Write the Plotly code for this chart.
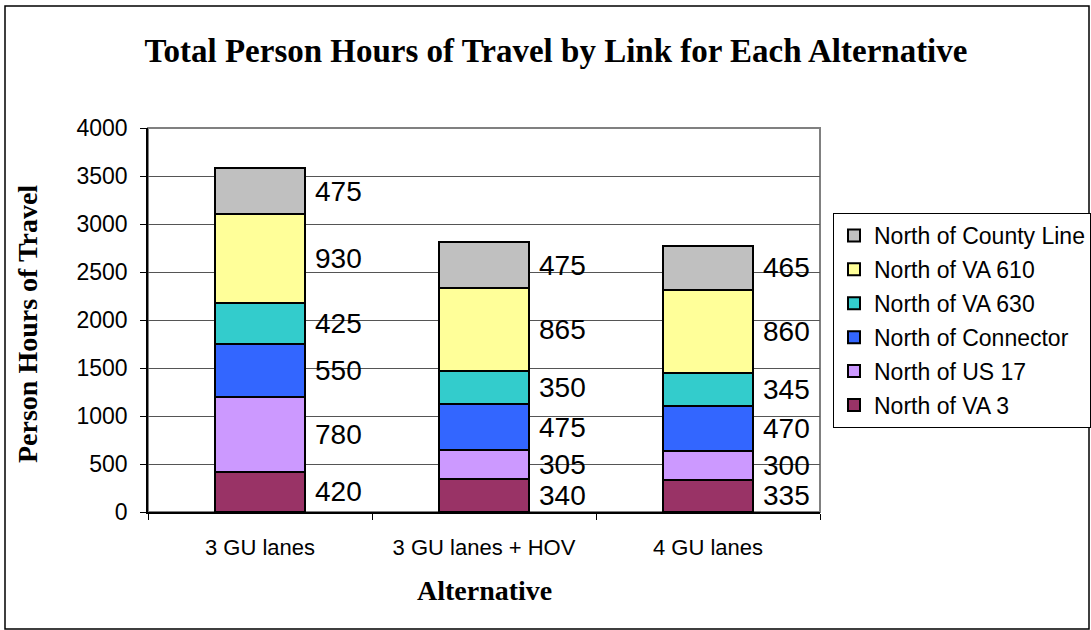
import plotly.graph_objects as go

categories = ["3 GU lanes", "3 GU lanes + HOV", "4 GU lanes"]
series_names = ["North of VA 3", "North of US 17", "North of Connector",
                "North of VA 630", "North of VA 610", "North of County Line"]
north_va3 = [420, 340, 335]
north_us17 = [780, 305, 300]
north_connector = [550, 475, 470]
north_va630 = [425, 350, 345]
north_va610 = [930, 865, 860]
north_county_line = [475, 475, 465]
colors = ["#993366", "#CC99FF", "#3366FF", "#33CCCC", "#FFFF99", "#C0C0C0"]
y_ticks = [0, 500, 1000, 1500, 2000, 2500, 3000, 3500, 4000]

series = [north_va3, north_us17, north_connector, north_va630, north_va610, north_county_line]

W, H = 1091, 630
L, T, B = 148, 128, 118
PW = W - L           # paper width (r margin = 0)
PLOT_R = 820         # right edge of plot area in px
PH = H - T - B
dom_r = (PLOT_R - L) / PW

def px_x(p):
    return (p - L) / PW

def px_y(p):
    return (H - B - p) / PH

fig = go.Figure()
n = len(series_names)
for i, (name, vals, col) in enumerate(zip(series_names, series, colors)):
    fig.add_trace(go.Bar(
        x=categories, y=vals, name=name, width=0.4, legendgroup=name,
        legendrank=1000 + (n - i),
        marker=dict(color=col, line=dict(color="black", width=2)),
    ))

annotations = []
for ci in range(len(categories)):
    base = 0
    for vals in series:
        v = vals[ci]
        annotations.append(dict(
            x=ci + 0.35, y=base + v / 2, xref="x", yref="y", text=str(v),
            showarrow=False, xanchor="center", yanchor="middle",
            font=dict(family="Liberation Sans, Arial", size=28, color="black"),
        ))
        base += v

annotations.append(dict(
    x=px_x(27), y=px_y(324), xref="paper", yref="paper", text="<b>Person Hours of Travel</b>",
    textangle=-90, showarrow=False, xanchor="center", yanchor="middle",
    font=dict(family="Liberation Serif, Times New Roman", size=28, color="black"),
))
annotations.append(dict(
    x=px_x(484), y=px_y(590), xref="paper", yref="paper", text="<b>Alternative</b>",
    showarrow=False, xanchor="center", yanchor="middle",
    font=dict(family="Liberation Serif, Times New Roman", size=28, color="black"),
))

fig.update_layout(
    width=W, height=H,
    barmode="stack",
    paper_bgcolor="white", plot_bgcolor="white",
    margin=dict(l=L, r=0, t=T, b=B),
    title=dict(text="<b>Total Person Hours of Travel by Link for Each Alternative</b>",
               x=556 / W, xanchor="center", y=1 - 50 / H, yanchor="middle",
               xref="container", yref="container",
               font=dict(family="Liberation Serif, Times New Roman", size=33, color="black")),
    font=dict(family="Liberation Sans, Arial", size=22, color="black"),
    legend=dict(
        x=1.0, y=px_y(213), xanchor="right", yanchor="top",
        traceorder="grouped",
        bordercolor="black", borderwidth=1, bgcolor="white",
        font=dict(family="Liberation Sans, Arial", size=23, color="black"),
        tracegroupgap=1, itemwidth=30,
    ),
    annotations=annotations,
    shapes=[
        dict(type="rect", xref="paper", yref="paper", x0=0, x1=dom_r, y0=0, y1=1,
             line=dict(color="#808080", width=2), layer="below"),
        dict(type="rect", xref="paper", yref="paper",
             x0=px_x(5), x1=px_x(1089), y0=px_y(629), y1=px_y(6),
             line=dict(color="black", width=1.5), layer="below"),
    ],
)

fig.update_xaxes(
    domain=[0, dom_r],
    type="category", tickson="boundaries", ticks="outside", ticklen=6,
    tickcolor="black", showline=True, linecolor="black", linewidth=1.5,
    showgrid=False, ticklabelstandoff=15,
    tickfont=dict(family="Liberation Sans, Arial", size=22, color="black"),
)
fig.update_yaxes(
    range=[0, 4000], tickvals=y_ticks, ticks="outside", ticklen=6,
    tickcolor="black", showline=True, linecolor="black", linewidth=1.5,
    showgrid=True, gridcolor="#555555", gridwidth=1, zeroline=False,
    ticklabelstandoff=8,
    tickfont=dict(family="Liberation Sans, Arial", size=23, color="black"),
)

fig.write_html("out.html")
